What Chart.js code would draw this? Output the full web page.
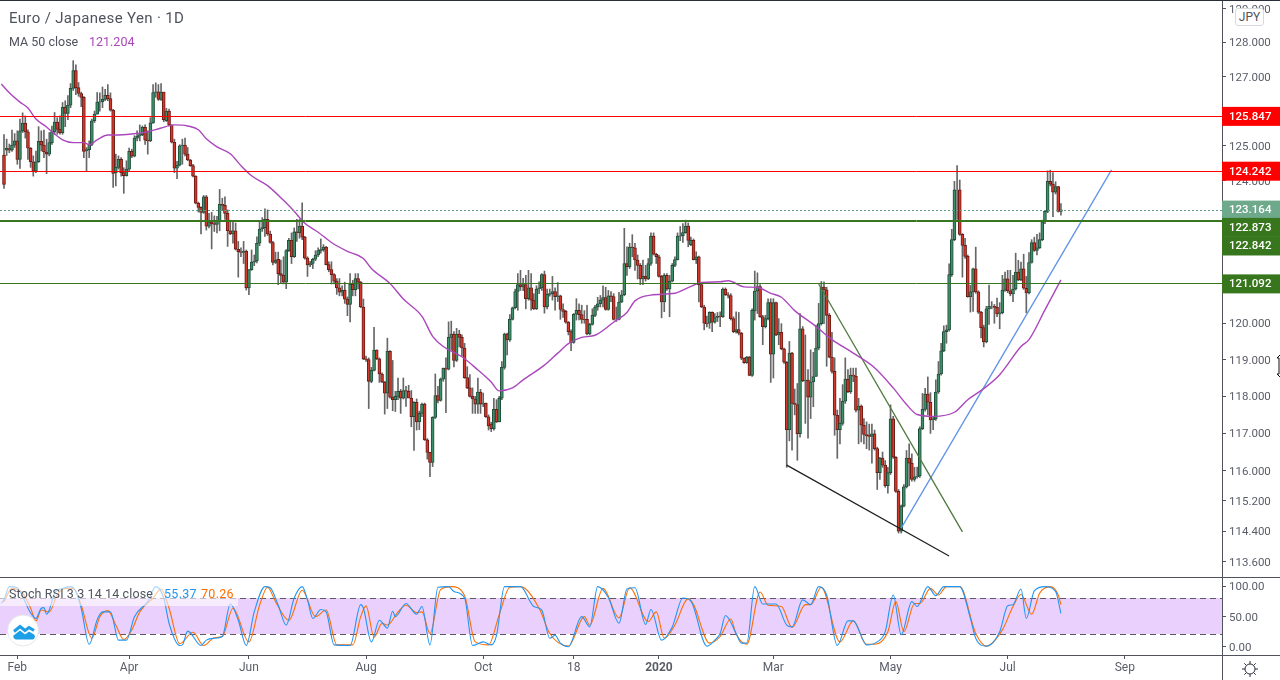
<!DOCTYPE html>
<html><head><meta charset="utf-8"><title>EUR/JPY</title>
<style>
html,body{margin:0;padding:0;background:#fff;width:1280px;height:680px;overflow:hidden}
canvas{position:absolute;left:0}
.t{position:absolute;font-family:Roboto,sans-serif;white-space:nowrap;color:#50535e;line-height:16px}
svg{position:absolute}
</style></head><body>
<canvas id="main" width="1280" height="577" style="top:0"></canvas>
<canvas id="stoch" width="1280" height="103" style="top:577px"></canvas>
<div class="t" style="left:9px;top:10px;font-size:15px;letter-spacing:.35px">Euro / Japanese Yen · 1D</div>
<div class="t" style="left:9px;top:34px;font-size:12.5px">MA 50 close</div>
<div class="t" style="left:89px;top:34px;font-size:12.5px;color:#ab47bc">121.204</div>
<div style="position:absolute;left:0;top:586px;width:238px;height:20px;background:rgba(255,255,255,.6)"></div>
<div class="t" style="left:9px;top:586px;font-size:12.5px;letter-spacing:.12px">Stoch RSI 3 3 14 14 close</div>
<div class="t" style="left:164px;top:586px;font-size:12.5px;letter-spacing:.3px;color:#2196f3">55.37</div>
<div class="t" style="left:201px;top:586px;font-size:12.5px;letter-spacing:.3px;color:#ff6d00">70.26</div>
<div class="t" style="left:1235px;top:8px;width:29px;height:18px;line-height:17px;font-size:12px;text-align:center;background:#fff;border:1px solid #d8dae0;border-radius:3px;box-sizing:border-box;color:#50535e">JPY</div>
<svg style="left:6px;top:614px" width="34" height="34" viewBox="0 0 34 34"><circle cx="17" cy="16.5" r="15.5" fill="#fff" stroke="#e4e6ea"/><path d="M8 17.5L14 12.5L19 16.5L23 13.5L28 16.5" fill="none" stroke="#1d9fe8" stroke-width="3"/><path d="M7.5 21.5L14 16.5L19 20.5L23 17.5L28 20.5a3 3 0 0 1-1 5H10a3 3 0 0 1-2.5-4z" fill="#1d9fe8"/></svg>
<svg style="left:1241px;top:660px" width="18" height="18" viewBox="0 0 18 18"><circle cx="9" cy="9" r="5" fill="none" stroke="#2a2e39"/><path d="M9 1v3M9 14v3M1 9h3M14 9h3M3.3 3.3l2.1 2.1M12.6 12.6l2.1 2.1M3.3 14.7l2.1-2.1M12.6 5.4l2.1-2.1" stroke="#2a2e39"/></svg>
<svg style="left:1275px;top:354px" width="5" height="25" viewBox="0 0 5 25"><path d="M5 1L2 4h2v16H2l3 3" fill="#fff" stroke="#111"/></svg>
<script src="https://cdn.jsdelivr.net/npm/chart.js@4/dist/chart.umd.js"></script>
<script>
const opens=[
124.73,124.87,124.92,124.87,125.02,125.14,124.61,125.43,125.65,125.40,
124.93,124.54,124.27,124.54,125.13,125.02,124.82,124.76,125.09,125.40,
125.68,125.47,125.38,126.11,125.93,126.17,126.66,127.18,126.68,126.51,
126.40,124.85,124.89,125.04,125.72,125.91,126.26,126.27,126.34,126.46,
126.36,126.03,124.23,124.38,124.61,124.23,124.14,124.33,124.84,124.70,
125.22,125.28,125.32,125.53,125.16,125.14,125.66,126.54,126.56,126.34,
126.55,125.72,126.00,125.60,125.10,124.36,124.44,125.00,125.02,
124.76,124.59,124.43,124.13,123.36,123.24,123.10,123.54,122.71,122.83,
122.78,122.76,122.85,123.33,123.30,123.07,122.58,122.49,122.58,122.06,121.99,
121.97,122.01,120.98,121.49,121.70,121.73,122.23,122.63,122.67,122.90,
122.49,122.25,121.69,121.78,121.38,121.33,121.14,122.02,122.31,121.85,
122.55,122.53,122.71,122.40,121.81,121.62,121.66,121.78,121.90,122.02,
122.05,122.12,121.63,121.49,121.35,121.17,120.98,120.86,120.91,120.67,
120.52,121.09,120.93,121.24,121.14,120.45,119.02,119.00,118.41,118.71,119.26,
119.02,118.61,118.39,118.09,119.23,117.98,117.91,118.00,118.14,117.95,
118.16,118.14,117.95,117.45,117.84,117.31,117.54,117.79,116.83,116.49,116.22,
117.43,118.02,117.89,118.47,118.77,118.74,119.61,119.70,118.98,119.70,
119.61,119.32,118.51,118.23,118.00,117.93,117.79,118.12,117.79,117.82,
117.45,117.25,117.13,117.65,117.31,117.95,118.79,119.70,119.54,120.11,
120.43,120.88,121.07,121.01,121.07,120.68,120.98,120.64,120.40,120.95,120.98,
121.35,120.45,120.80,120.82,120.88,120.74,120.76,120.38,120.33,120.03,
119.77,119.47,120.25,120.36,120.24,120.11,120.11,119.71,119.97,120.22,
120.45,120.54,120.64,120.71,120.38,120.76,120.74,120.11,120.11,120.59,120.79,
121.66,121.57,122.12,122.10,121.76,121.61,121.23,121.30,121.23,121.66,
122.43,121.92,121.85,121.30,120.59,121.33,120.95,121.17,121.61,121.77,
122.43,122.44,122.53,122.71,122.18,122.31,121.77,121.85,121.07,120.45,120.00,
120.00,120.30,120.03,120.16,120.20,120.18,120.95,120.79,120.77,120.13,119.77,119.83,
119.73,119.04,118.92,119.07,118.57,
120.34,120.89,121.02,120.18,119.91,120.13,120.57,119.15,120.57,119.68,
119.75,119.30,118.93,117.10,119.18,117.81,117.78,116.99,119.85,118.42,118.44,
117.98,118.39,118.54,119.32,119.99,121.00,120.93,120.22,119.07,118.68,
117.49,117.10,117.27,117.87,118.47,118.13,118.58,118.55,117.63,117.74,117.22,
116.97,116.95,116.92,116.99,116.59,115.95,116.34,116.15,115.60,115.95,
117.39,116.36,115.45,114.40,115.06,115.57,116.34,116.20,115.77,115.84,
115.86,117.13,117.65,118.06,117.84,117.36,117.39,118.12,118.61,119.24,
119.77,119.82,121.35,122.33,123.74,123.74,122.48,122.17,121.86,120.74,
120.87,121.51,120.87,120.31,119.88,119.49,120.40,120.47,120.47,120.44,120.26,
120.29,120.92,121.23,120.90,120.81,120.95,121.42,121.20,121.51,120.97,
120.84,121.69,122.25,122.03,122.10,122.33,122.83,123.13,123.98,123.90,123.67,123.83,123.13];
const closes=[
123.89,124.93,124.87,125.02,125.14,124.61,125.43,125.65,125.40,124.93,
124.54,124.27,124.54,125.13,125.02,124.82,124.76,125.09,125.40,125.68,
125.47,125.38,126.11,125.93,126.17,126.66,127.18,126.68,126.51,126.40,
124.84,124.89,125.04,125.72,125.91,126.26,126.27,126.34,126.46,126.36,
126.03,124.21,124.38,124.61,124.23,124.14,124.33,124.84,124.70,125.22,
125.28,125.32,125.53,125.16,125.14,125.66,126.54,126.56,126.34,126.55,
125.75,126.00,125.60,125.10,124.36,124.44,125.00,125.02,124.76,
124.59,124.43,124.13,123.36,123.24,123.10,123.54,122.71,122.83,122.78,
122.76,122.85,123.33,123.30,123.07,122.58,122.49,122.58,122.06,121.99,121.97,
122.01,120.98,121.49,121.70,121.73,122.23,122.63,122.67,122.90,122.49,
122.25,121.69,121.76,121.38,121.33,121.14,122.02,122.31,121.85,122.55,
122.53,122.71,122.40,121.81,121.62,121.66,121.78,121.90,122.02,122.05,
122.12,121.63,121.49,121.35,121.17,120.98,120.86,120.91,120.67,120.52,
121.09,120.93,121.24,121.14,120.45,119.02,119.00,118.41,118.71,119.26,119.02,
118.61,118.39,118.09,119.23,117.98,117.91,118.00,118.14,117.95,118.16,
118.14,117.95,117.45,117.84,117.31,117.54,117.79,116.83,116.49,116.22,117.43,
118.02,117.89,118.47,118.77,118.74,119.61,119.70,118.98,119.70,119.61,
119.32,118.51,118.23,118.00,117.93,117.79,118.12,117.79,117.82,117.45,
117.20,117.13,117.65,117.31,117.95,118.79,119.70,119.54,120.11,120.43,
120.88,121.07,121.01,121.07,120.68,120.98,120.64,120.40,120.95,120.98,121.35,
120.45,120.80,120.82,120.88,120.74,120.76,120.38,120.33,120.03,119.77,
119.47,120.25,120.36,120.24,120.11,120.10,119.71,119.97,120.22,120.45,
120.54,120.64,120.71,120.38,120.76,120.74,120.11,120.11,120.59,120.79,121.66,
121.57,122.12,122.10,121.76,121.61,121.23,121.30,121.23,121.66,122.43,
121.92,121.85,121.30,120.59,121.33,120.95,121.17,121.61,121.77,122.43,
122.44,122.53,122.71,122.31,122.31,121.77,121.85,121.07,120.45,120.00,119.98,
120.30,120.03,120.16,120.20,120.18,120.95,120.79,120.77,120.13,119.77,119.83,119.73,
119.04,118.92,119.07,118.57,120.36,
120.89,121.02,120.18,119.91,120.13,120.57,119.15,120.57,119.68,119.75,
119.30,118.93,117.10,119.18,117.81,117.78,116.99,119.85,118.42,118.44,117.98,
118.39,118.54,119.32,119.99,121.00,120.93,120.22,119.07,118.68,117.49,
117.10,117.27,117.87,118.47,118.13,118.58,118.55,117.63,117.74,117.22,116.97,
116.93,116.92,116.99,116.59,115.95,116.34,116.15,115.60,115.95,117.39,
116.36,115.45,114.40,115.06,115.57,116.34,116.20,115.77,115.84,115.86,
117.13,117.65,118.06,117.84,117.36,117.39,118.12,118.61,119.24,119.77,
119.82,121.35,122.33,123.74,123.74,122.48,122.17,121.86,120.74,120.87,
121.51,120.87,120.31,119.88,119.49,120.40,120.47,120.47,120.44,120.26,120.29,
120.92,121.23,120.90,120.81,120.95,121.42,121.20,121.51,120.97,120.84,
121.69,122.25,122.03,122.10,122.33,122.83,123.13,123.98,123.90,123.67,123.83,123.13,123.17];
const highs=[
125.32,125.19,125.05,125.45,125.35,125.43,125.77,125.95,125.86,125.46,
124.95,124.71,124.85,125.55,125.43,125.45,125.19,125.38,125.57,125.96,
125.81,125.86,126.25,126.30,126.45,126.80,127.47,127.35,126.83,126.55,
126.42,124.95,125.14,125.77,126.00,126.54,126.53,126.70,126.63,126.77,
126.53,126.05,124.76,124.71,124.66,124.37,124.57,124.93,124.90,125.29,
125.43,125.60,125.57,125.60,125.43,125.81,126.77,126.82,126.77,126.80,
126.55,126.08,126.06,125.60,125.19,124.55,125.03,125.19,125.22,
124.95,124.61,124.47,124.14,123.39,123.26,123.58,123.58,123.07,123.10,
123.00,122.99,123.75,123.50,123.54,123.17,122.88,122.85,122.80,122.28,122.10,
122.28,122.04,121.49,122.04,121.90,122.41,122.85,122.95,123.20,123.17,
122.57,122.28,121.98,121.98,121.76,121.85,122.05,122.37,122.52,122.66,
122.90,122.90,123.37,122.42,121.85,121.72,121.81,122.02,122.10,122.35,
122.19,122.14,121.71,121.71,121.38,121.24,121.24,121.04,121.14,120.73,
121.38,121.19,121.38,121.38,121.16,120.67,119.10,119.05,118.79,119.89,119.27,
119.05,118.64,118.41,119.59,119.25,118.98,118.14,118.50,118.19,118.50,
118.27,118.30,118.16,117.86,117.93,117.60,117.82,117.82,116.86,116.49,117.45,
118.61,118.27,118.50,118.77,119.05,120.04,120.06,119.77,119.86,119.81,
119.68,119.45,118.81,118.59,118.23,118.00,118.50,118.19,118.09,117.82,
117.50,117.30,117.95,117.91,118.00,118.95,119.73,119.73,120.24,120.45,
120.95,121.38,121.47,121.25,121.33,121.47,121.38,120.82,121.04,121.15,121.38,
121.45,120.95,120.95,121.30,120.98,121.13,120.78,120.54,120.36,120.05,
119.82,120.27,120.68,120.54,120.50,120.35,120.50,120.00,120.40,120.50,
120.72,120.77,121.04,121.00,120.91,120.88,120.82,120.45,120.86,120.91,122.65,
122.13,122.23,122.47,122.23,121.90,121.66,121.76,121.61,121.80,122.52,
122.52,121.95,121.90,121.33,121.38,121.38,121.33,121.66,121.85,122.52,
122.70,122.78,122.88,122.80,122.40,122.35,121.99,121.87,121.09,120.50,120.20,
120.32,120.32,120.27,120.30,120.32,120.98,120.98,120.85,120.82,120.18,120.32,120.30,
119.75,119.05,119.09,119.09,120.40,
121.45,121.40,121.07,120.22,120.22,120.68,120.68,120.68,120.59,120.13,
119.99,119.32,118.95,119.50,119.20,118.20,118.35,120.27,119.91,119.68,118.73,
119.27,119.20,119.95,120.55,121.16,121.15,121.00,120.27,119.75,119.05,
117.63,117.95,118.32,119.05,118.73,118.77,118.77,118.77,117.95,117.77,117.40,
117.31,117.25,117.25,117.09,116.63,116.36,116.50,116.27,116.09,117.77,
117.46,116.38,115.50,115.09,115.63,116.54,116.72,116.45,116.09,116.10,
117.18,118.08,118.22,118.53,118.10,117.46,118.45,118.95,119.45,119.93,
119.95,121.65,122.62,123.98,124.43,124.02,122.50,122.37,121.90,121.05,
121.53,122.12,120.90,120.33,119.95,120.47,121.06,120.60,120.52,120.70,120.57,
121.33,121.42,121.47,121.47,121.33,121.95,121.75,121.70,121.92,121.30,
121.97,122.33,122.40,122.48,122.52,122.88,123.16,124.28,124.30,124.23,123.97,123.84,123.35];
const lows=[
123.78,124.72,124.80,124.84,124.95,124.47,124.35,125.38,125.22,124.61,
124.38,124.13,124.23,124.52,124.85,124.66,124.20,124.71,125.04,125.33,
125.33,125.33,125.33,125.55,125.75,126.10,126.60,126.48,126.43,126.13,
124.66,124.26,124.66,125.00,125.67,125.91,126.00,126.10,126.30,126.30,
126.00,123.81,123.85,124.33,124.13,123.64,124.13,124.28,124.66,124.68,
125.14,125.14,125.29,125.04,124.76,125.12,125.64,126.40,126.31,126.31,
125.69,125.70,125.57,125.08,124.23,124.06,124.42,124.47,124.71,
124.57,124.41,124.11,123.34,123.11,122.49,123.07,122.60,122.66,122.07,
122.56,122.52,122.58,123.15,122.90,122.14,122.47,122.23,122.04,121.28,121.85,
121.66,120.92,120.79,121.47,121.60,121.68,122.16,122.56,122.42,122.45,
122.23,121.62,121.66,121.07,121.11,121.09,120.96,122.00,121.66,121.83,
122.28,122.37,122.33,121.78,121.30,121.57,121.52,121.74,121.85,121.95,
122.00,121.62,121.43,121.09,121.09,120.80,120.76,120.76,120.55,120.21,
120.04,120.76,120.76,120.95,120.43,119.00,118.95,117.67,118.37,118.69,119.00,
118.38,118.37,117.52,117.67,117.95,117.61,117.59,117.91,117.54,117.93,
117.73,118.00,117.18,116.54,117.09,117.10,117.45,116.81,116.31,115.84,116.11,
117.40,117.82,117.87,118.41,117.56,118.72,119.26,118.80,118.95,119.35,
119.10,118.49,118.21,117.98,117.54,117.54,117.54,117.54,117.72,117.43,
117.09,117.05,117.09,117.29,117.31,117.91,118.74,119.13,119.50,120.09,
120.40,120.36,120.91,120.90,120.40,120.64,120.36,120.38,120.38,120.82,120.91,
120.28,120.40,120.75,120.64,120.36,120.60,120.11,120.16,120.00,119.68,
119.25,119.45,120.09,120.09,120.00,120.00,119.68,119.68,119.95,120.18,
120.36,120.45,120.45,120.36,120.36,120.60,120.09,120.05,120.09,120.57,120.76,
121.33,121.52,121.85,121.47,121.23,121.07,121.07,121.17,121.21,121.61,
121.90,121.66,121.28,120.15,120.32,120.91,120.18,121.15,121.57,121.76,
122.30,122.25,122.51,122.13,122.16,121.76,121.66,120.59,120.43,119.82,119.90,
119.86,119.77,120.00,120.05,119.91,120.16,120.77,120.70,120.09,119.74,119.73,119.68,
119.00,118.90,118.90,118.56,118.54,
120.09,120.27,120.16,119.41,119.87,120.09,118.38,118.50,119.66,119.41,
119.27,118.90,116.09,116.80,116.55,117.50,116.28,116.90,118.40,117.27,116.87,
117.40,117.72,118.54,119.27,119.95,119.99,118.82,119.05,118.63,116.95,
116.33,116.72,117.22,117.81,118.10,118.08,118.40,117.58,116.72,116.77,116.72,
116.59,116.55,116.20,116.55,115.50,115.77,116.09,115.56,115.40,115.90,
116.33,115.42,114.35,114.35,115.04,115.54,115.60,115.72,115.72,115.80,
115.82,117.10,117.60,117.50,117.00,117.10,117.35,118.08,118.58,119.22,
119.45,119.78,121.30,122.30,122.90,122.45,121.28,121.80,120.72,120.31,
120.33,120.83,120.27,119.60,119.35,119.46,119.97,120.40,120.00,120.18,119.85,
120.26,120.88,120.85,120.76,120.60,120.92,121.18,121.18,120.94,120.29,
120.81,121.67,122.00,121.90,122.08,122.30,122.78,123.09,123.85,122.98,123.62,123.11,123.02];

const maBars=[0,3,7,10,13,17,20,23,27,31,33,36,40,43,49,55,60,65,70,74,77,81,86,90,94,100,106,110,114,119,124,130,136,139,146,151,158,162,166,173,179,184,187,192,196,204,209,213,218,223,230,235,238,244,253,258,263,270,273,279,284,289,293,298,305,312,320,328,335,340,344,350,358,363,369,375,383,386,392,398];
const maValues=[126.79,126.53,126.26,126.09,125.77,125.54,125.34,125.17,125.09,125.09,125.03,125.17,125.31,125.31,125.34,125.40,125.51,125.60,125.57,125.46,125.20,124.97,124.77,124.43,124.14,123.86,123.44,123.13,122.79,122.54,122.25,122.00,121.80,121.52,121.10,120.67,120.19,119.64,119.36,119.08,118.72,118.39,118.15,118.23,118.45,118.85,119.18,119.44,119.61,119.67,120.03,120.30,120.62,120.78,120.83,120.99,121.13,121.15,121.18,121.01,120.99,120.83,120.72,120.35,119.97,119.55,119.18,118.78,118.23,117.78,117.51,117.46,117.57,117.91,118.21,118.59,119.36,119.55,120.37,121.204];

const kBars=[0,1,3,6,8,11,13,15,16,17,18,20,23,26,28,30,33,36,38,41,44,47,50,55,58,61,63,67,68,70,75,77,80,83,86,89,92,95,99,101,104,107,110,113,115,117,120,122,125,131,135,136,139,142,145,147,148,152,156,158,161,164,168,170,174,177,181,184,186,189,195,200,203,206,208,210,213,218,221,224,228,232,235,238,242,244,248,252,256,259,265,268,270,272,276,278,280,283,286,288,291,295,297,301,304,307,310,314,318,320,325,329,332,335,338,342,344,348,351,354,360,364,366,370,375,378,380,383,385,388,392,396,398];
const kValues=[72,78,100,98,83,56,47,64,65,54,61,89,97,100,92,64,4,45,58,58,11,11,50,75,100,81,39,2,3,26,2,11,14,17,71,44,2,58,100,98,69,36,81,100,78,47,62,58,3,2,70,64,8,44,31,59,50,72,54,67,3,99,100,92,81,2,8,3,19,100,100,67,61,14,19,6,0,50,33,100,82,39,96,98,37,62,11,33,81,76,1,11,22,52,22,6,6,100,71,71,71,36,33,78,70,100,86,2,43,43,3,8,25,86,20,75,67,100,85,100,100,47,14,1,25,68,70,96,47,93,100,92,55.37];
const dBars=[1,4,8,11,13,15,18,21,24,27,30,34,37,40,43,46,49,52,57,60,63,67,72,76,80,83,87,93,97,100,103,108,113,118,122,126,132,135,137,140,143,145,149,152,156,158,161,165,169,174,178,183,187,191,195,202,206,213,219,221,226,232,236,243,246,249,253,258,260,266,270,274,276,280,285,288,293,297,302,304,308,315,320,325,328,333,336,339,343,345,349,352,355,360,366,370,376,380,383,387,390,394,397,398];
const dValues=[75,97,89,64,43,61,58,86,97,97,69,14,50,60,36,12,28,58,81,96,64,5,24,2,15,17,64,8,69,99,75,44,94,50,61,3,3,50,68,16,39,36,58,69,57,58,22,95,100,85,8,3,53,99,100,64,22,1,50,36,97,48,98,42,58,14,36,80,70,6,17,46,21,4,91,69,67,32,70,70,99,8,43,4,4,25,75,25,72,72,97,86,100,100,22,1,28,67,87,54,89,100,86,70.26];

const priceTicks=[129,128,127,126,125,124,123,122,121,120,119,118,117,116,115.2,114.4,113.6];
const stochTicks=[100,50,0];
const timeLabels=['Feb','Apr','Jun','Aug','Oct','18','2020','Mar','May','Jul','Sep'];
const timeBars=[6,48,93,137,181,215,247,290,334,378,422];
const levelValues=[125.847,124.242,122.873,122.842,121.092];
const levelColors=['#ff0000','#ff0000','#38761d','#38761d','#38761d'];
const lastPrice=123.164;
const bandLevels=[80,20];

const slots=459,startBar=1;
const categories=[];
for(let d=new Date(Date.UTC(2019,0,24));categories.length<slots;d=new Date(d.getTime()+864e5)){
  if(d.getUTCDay()%6)categories.push(d.toISOString().slice(0,10));
}
const blank=()=>Array(slots).fill(null);
const sparse=(b,v)=>{const a=blank();b.forEach((x,i)=>a[x]=v[i]);return a;};
const bodies=blank(),wicks=blank(),fills=Array(slots).fill('#000'),edges=Array(slots).fill('#000');
opens.forEach((o,i)=>{const j=i+startBar,c=closes[i];
  bodies[j]=[o,c];wicks[j]=[lows[i],highs[i]];
  fills[j]=c>=o?'#3d8f68':'#d0392b';edges[j]=c>=o?'#1f4f3a':'#6e1a14';});
const FONT='Roboto,sans-serif',TXT='#5a5d68',AX='#50535e';
Chart.defaults.font.family=FONT;
const line=(data,color,width,extra)=>Object.assign({type:'line',data,borderColor:color,borderWidth:width,pointRadius:0,spanGaps:true,order:1},extra||{});
const noPad=s=>{s.paddingTop=0;s.paddingBottom=0;s.paddingLeft=0;s.paddingRight=0;};

const mainPlugin={id:'mainPlugin',
 afterDatasetsDraw(ch){const c=ch.ctx,y=ch.scales.y,r=ch.chartArea.right;c.save();
  c.strokeStyle='#5f9e85';c.setLineDash([2,2]);c.lineWidth=1;let py=Math.round(y.getPixelForValue(lastPrice))+.5;
  c.beginPath();c.moveTo(0,py);c.lineTo(r,py);c.stroke();c.setLineDash([]);
  const nudge=[0,-1,0,0,0];
  levelValues.forEach((v,i)=>{const p=Math.floor(y.getPixelForValue(v))+nudge[i]+.5;c.strokeStyle=levelColors[i];c.beginPath();c.moveTo(0,p);c.lineTo(r,p);c.stroke();});
  c.restore();},
 afterDraw(ch){const c=ch.ctx,y=ch.scales.y,r=ch.chartArea.right;c.save();
  c.fillStyle='#2a2e39';c.fillRect(0,0,1280,1);
  const boxes=[[lastPrice,'#6fa98c',0],[levelValues[2],levelColors[2],7],[levelValues[3],levelColors[3],24.5],[levelValues[4],levelColors[4],0],[levelValues[0],levelColors[0],0],[levelValues[1],levelColors[1],-1]];
  c.font='500 11.5px '+FONT;c.textBaseline='middle';c.textAlign='left';
  boxes.forEach(([v,col,s])=>{const m=y.getPixelForValue(v)+s;c.fillStyle=col;c.fillRect(r,m-9.5,58,19);c.fillStyle='#fff';c.fillText(v.toFixed(3),r+7,m+.5);});
  c.restore();}};
new Chart(document.getElementById('main'),{
 data:{labels:categories,datasets:[
  line(sparse([295,356],[116.15,113.75]),'#1e1e1e',1.2,{order:2}),
  line(sparse([307,361],[121.09,114.38]),'#4f7a3f',1.3,{order:2}),
  line(sparse([338,417],[114.48,124.31]),'#5f93e8',1.3,{order:2}),
  line(sparse(maBars,maValues),'#ab47bc',1.4,{cubicInterpolationMode:'monotone',order:1}),
  {type:'bar',data:bodies,grouped:false,barThickness:3,backgroundColor:fills,borderColor:edges,borderWidth:1,borderSkipped:false,order:3},
  {type:'bar',data:wicks,grouped:false,barThickness:1,backgroundColor:'#666',borderWidth:0,order:4}
 ]},
 options:{responsive:false,animation:false,devicePixelRatio:1,events:[],layout:{padding:0},
  plugins:{legend:{display:false},tooltip:{enabled:false},title:{display:false}},
  scales:{
   x:{type:'category',display:false,offset:true},
   y:{type:'logarithmic',position:'right',min:113.2,max:129.26,
    afterBuildTicks:s=>{s.ticks=priceTicks.map(v=>({value:v}));},
    afterFit:s=>{s.width=58;noPad(s);},
    border:{display:true,color:AX},
    grid:{drawOnChartArea:false,tickLength:4,color:AX},
    ticks:{autoSkip:false,padding:3,labelOffset:1,color:TXT,font:{size:11.5},callback:v=>Number(v).toFixed(3)}}
  }},
 plugins:[mainPlugin]});

const stochPlugin={id:'stochPlugin',
 beforeDatasetsDraw(ch){const c=ch.ctx,y=ch.scales.y,r=ch.chartArea.right;const a=Math.floor(y.getPixelForValue(bandLevels[0])),b=Math.floor(y.getPixelForValue(bandLevels[1]));
  c.save();c.fillStyle='#e9d0fd';c.fillRect(0,a,r,b-a);c.strokeStyle='#5d5766';c.setLineDash([6,4]);c.lineWidth=1;
  [a,b].forEach(p=>{const q=p+.5;c.beginPath();c.moveTo(0,q);c.lineTo(r,q);c.stroke();});c.restore();},
 afterDraw(ch){const c=ch.ctx,r=ch.chartArea.right;c.save();c.fillStyle=AX;c.fillRect(0,0,1280,1);c.fillRect(0,78,1280,1);c.fillRect(r,78,1,25);c.restore();}};
new Chart(document.getElementById('stoch'),{
 type:'line',
 data:{labels:categories,datasets:[
  line(sparse(kBars,kValues),'#2196f3',1.1,{cubicInterpolationMode:'monotone',order:1}),
  line(sparse(dBars,dValues),'#ff6d00',1.1,{cubicInterpolationMode:'monotone',order:2})
 ]},
 options:{responsive:false,animation:false,devicePixelRatio:1,events:[],layout:{padding:0},
  plugins:{legend:{display:false},tooltip:{enabled:false}},
  scales:{
   x:{type:'category',offset:true,
    afterBuildTicks:s=>{s.ticks=timeBars.map(v=>({value:v}));},
    afterFit:s=>{s.height=25;noPad(s);},
    border:{display:false},
    grid:{drawOnChartArea:false,tickLength:4,color:AX},
    ticks:{autoSkip:false,maxRotation:0,padding:2,color:TXT,
     font:c=>({size:12,weight:c.tick&&c.tick.value===247?'700':'400'}),
     callback:v=>timeLabels[timeBars.indexOf(v)]}},
   y:{position:'right',min:-13.8,max:116,
    afterBuildTicks:s=>{s.ticks=stochTicks.map(v=>({value:v}));},
    afterFit:s=>{s.width=58;noPad(s);},
    border:{display:true,color:AX},
    grid:{drawOnChartArea:false,tickLength:4,color:AX},
    ticks:{autoSkip:false,padding:3,labelOffset:1,color:TXT,font:{size:11.5},callback:v=>Number(v).toFixed(2)}}
  }},
 plugins:[stochPlugin]});
</script></body></html>
